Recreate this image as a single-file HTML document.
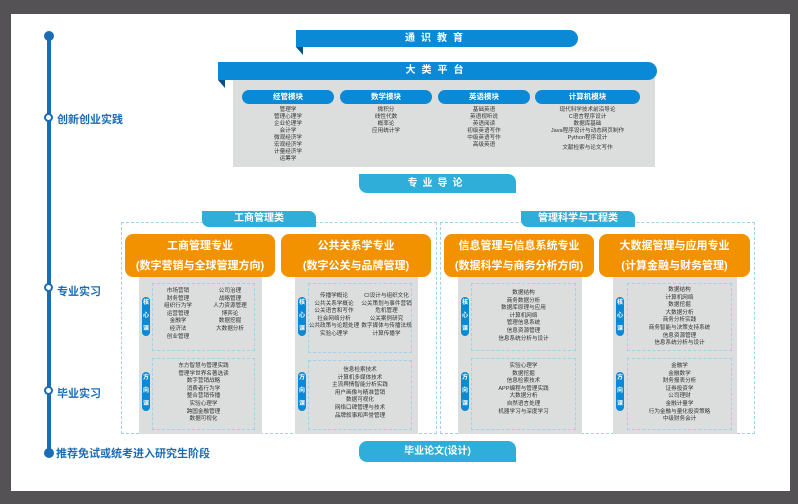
<!DOCTYPE html>
<html><head><meta charset="utf-8"><style>
*{margin:0;padding:0;box-sizing:border-box}
body{width:798px;height:504px;background:#545254;position:relative;overflow:hidden;font-family:"Liberation Sans","Noto Sans CJK SC",sans-serif}
.a{position:absolute}
.page{left:11px;top:14px;width:779px;height:477px;background:#fff}
.tl{color:#1a6cb5;font-weight:bold;font-size:11px;white-space:nowrap}
.ring{width:9px;height:9px;border-radius:50%;border:2px solid #1a6cb5;background:#fff}
.ban{background:#0a8ad6;color:#fff;font-weight:bold;text-align:center;border-radius:0 9px 9px 0;letter-spacing:6px}
.fold{width:0;height:0;border-top:8px solid #0a4f86;border-left:7px solid transparent}
.pill{background:#0a8ad6;color:#fff;font-size:7.5px;font-weight:bold;text-align:center;border-radius:8px;height:14px;line-height:14px}
.lst{font-size:5.6px;line-height:7px;color:#333;text-align:center}
.lb{background:#2eaed9;color:#fff;font-weight:bold;text-align:center}
.dash{border:1px dashed #9fd3ec}
.or{background:#f39200;color:#fff;font-weight:bold;text-align:center;border-radius:8px;font-size:11px;line-height:20px;padding-top:2px}
.gp{background:#dcdddd}
.vp{background:#0a8ad6;color:#fff;font-size:6px;font-weight:bold;width:8px;border-radius:4px;text-align:center;line-height:13px}
.cl{font-size:5.6px;line-height:7.6px;color:#333;text-align:center;white-space:nowrap}
</style></head><body>
<div class="a page"></div>
<!-- timeline -->
<div class="a" style="left:47px;top:36px;width:4px;height:418px;background:#1a6cb5"></div>
<div class="a" style="left:44px;top:31px;width:10px;height:10px;border-radius:50%;background:#1a6cb5"></div>
<div class="a" style="left:44px;top:448px;width:10px;height:10px;border-radius:50%;background:#1a6cb5"></div>
<div class="a ring" style="left:44px;top:113px"></div>
<div class="a ring" style="left:44px;top:283px"></div>
<div class="a ring" style="left:44px;top:386px"></div>
<div class="a tl" style="left:57px;top:111px">创新创业实践</div>
<div class="a tl" style="left:57px;top:283px">专业实习</div>
<div class="a tl" style="left:57px;top:385px">毕业实习</div>
<div class="a tl" style="left:56px;top:445px">推荐免试或统考进入研究生阶段</div>
<!-- top banners -->
<div class="a ban" style="left:296px;top:30px;width:282px;height:17px;font-size:10px;line-height:17px">通识教育</div>
<div class="a fold" style="left:296px;top:47px"></div>
<div class="a gp" style="left:233px;top:78px;width:422px;height:89px"></div>
<div class="a ban" style="left:218px;top:62px;width:439px;height:18px;font-size:10px;line-height:18px">大类平台</div>
<div class="a fold" style="left:218px;top:80px"></div>
<div class="a pill" style="left:242px;top:90px;width:92px">经管模块</div>
<div class="a pill" style="left:340px;top:90px;width:92px">数学模块</div>
<div class="a pill" style="left:438px;top:90px;width:92px">英语模块</div>
<div class="a pill" style="left:535px;top:90px;width:105px">计算机模块</div>
<div class="a lst" style="left:242px;top:107px;width:92px">管理学<br>管理心理学<br>企业伦理学<br>会计学<br>微观经济学<br>宏观经济学<br>计量经济学<br>运筹学</div>
<div class="a lst" style="left:340px;top:107px;width:92px">微积分<br>线性代数<br>概率论<br>应用统计学</div>
<div class="a lst" style="left:438px;top:107px;width:92px">基础英语<br>英语视听说<br>英语阅读<br>初级英语写作<br>中级英语写作<br>高级英语</div>
<div class="a lst" style="left:530px;top:107px;width:115px">现代科学技术前沿导论<br>C语言程序设计<br>数据库基础<br>Java程序设计与动态网页制作<br>Python程序设计<br><span style="display:block;margin-top:3px">文献检索与论文写作</span></div>
<div class="a lb" style="left:359px;top:174px;width:157px;height:19px;border-radius:0 8px 0 8px;font-size:10px;line-height:19px;letter-spacing:5px">专业导论</div>
<!-- containers -->
<div class="a dash" style="left:121px;top:222px;width:316px;height:212px"></div>
<div class="a dash" style="left:440px;top:222px;width:315px;height:212px"></div>
<div class="a lb" style="left:202px;top:211px;width:114px;height:16px;border-radius:0 7px 0 7px;font-size:10px;line-height:16px">工商管理类</div>
<div class="a lb" style="left:521px;top:211px;width:114px;height:16px;border-radius:0 7px 0 7px;font-size:10px;line-height:16px">管理科学与工程类</div>
<!-- panels -->
<div class="a gp" style="left:139px;top:270px;width:123px;height:164px"></div>
<div class="a gp" style="left:295px;top:270px;width:123px;height:164px"></div>
<div class="a gp" style="left:458px;top:270px;width:124px;height:164px"></div>
<div class="a gp" style="left:613px;top:270px;width:124px;height:164px"></div>
<div class="a or" style="left:125px;top:234px;width:150px;height:43px">工商管理专业<br>(数字营销与全球管理方向)</div>
<div class="a or" style="left:281px;top:234px;width:150px;height:43px">公共关系学专业<br>(数字公关与品牌管理)</div>
<div class="a or" style="left:444px;top:234px;width:150px;height:43px">信息管理与信息系统专业<br>(数据科学与商务分析方向)</div>
<div class="a or" style="left:599px;top:234px;width:151px;height:43px">大数据管理与应用专业<br>(计算金融与财务管理)</div>
<!-- dashed boxes + pills -->
<div class="a dash" style="left:152px;top:283px;width:103px;height:68px"></div>
<div class="a dash" style="left:152px;top:358px;width:103px;height:72px"></div>
<div class="a dash" style="left:308px;top:283px;width:104px;height:70px"></div>
<div class="a dash" style="left:308px;top:360px;width:104px;height:70px"></div>
<div class="a dash" style="left:471px;top:283px;width:105px;height:68px"></div>
<div class="a dash" style="left:471px;top:358px;width:105px;height:72px"></div>
<div class="a dash" style="left:627px;top:283px;width:105px;height:68px"></div>
<div class="a dash" style="left:627px;top:358px;width:105px;height:72px"></div>
<div class="a vp" style="left:142px;top:297px">核<br>心<br>课</div>
<div class="a vp" style="left:142px;top:372px">方<br>向<br>课</div>
<div class="a vp" style="left:298px;top:297px">核<br>心<br>课</div>
<div class="a vp" style="left:298px;top:372px">方<br>向<br>课</div>
<div class="a vp" style="left:461px;top:297px">核<br>心<br>课</div>
<div class="a vp" style="left:461px;top:372px">方<br>向<br>课</div>
<div class="a vp" style="left:616px;top:297px">核<br>心<br>课</div>
<div class="a vp" style="left:616px;top:372px">方<br>向<br>课</div>
<!-- lists -->
<div class="a cl" style="left:153px;top:288px;width:50px">市场营销<br>财务管理<br>组织行为学<br>运营管理<br>金融学<br>经济法<br>创业管理</div>
<div class="a cl" style="left:205px;top:288px;width:50px">公司治理<br>战略管理<br>人力资源管理<br>博弈论<br>数据挖掘<br>大数据分析</div>
<div class="a cl" style="left:152px;top:363px;width:103px">东方智慧与管理实践<br>管理学世界名著选读<br>数字营销战略<br>消费者行为学<br>整合营销传播<br>实验心理学<br>跨国金融管理<br>数据可视化</div>
<div class="a cl" style="left:308px;top:293px;width:52px">传播学概论<br>公共关系学概论<br>公关语言和写作<br>社会网络分析<br>公共政策与论题处理<br>实验心理学</div>
<div class="a cl" style="left:360px;top:293px;width:53px">CI设计与组织文化<br>公关策划与事件营销<br>危机管理<br>公关案例研究<br>数字媒体与传播法规<br>计算传播学</div>
<div class="a cl" style="left:308px;top:367px;width:104px">信息检索技术<br>计算机多媒体技术<br>主流舆情智能分析实践<br>用户画像与精准营销<br>数据可视化<br>网络口碑管理与技术<br>品牌叙事和声誉管理</div>
<div class="a cl" style="left:471px;top:290px;width:105px">数据结构<br>商务数据分析<br>数据库原理与应用<br>计算机网络<br>管理信息系统<br>信息资源管理<br>信息系统分析与设计</div>
<div class="a cl" style="left:471px;top:363px;width:105px">实验心理学<br>数据挖掘<br>信息检索技术<br>APP编程与管理实践<br>大数据分析<br>自然语言处理<br>机器学习与深度学习</div>
<div class="a cl" style="left:627px;top:287px;width:105px">数据结构<br>计算机网络<br>数据挖掘<br>大数据分析<br>商务分析实践<br>商务智能与决策支持系统<br>信息资源管理<br>信息系统分析与设计</div>
<div class="a cl" style="left:627px;top:363px;width:105px">金融学<br>金融数学<br>财务报表分析<br>证券投资学<br>公司理财<br>金融计量学<br>行为金融与量化投资策略<br>中级财务会计</div>
<div class="a lb" style="left:359px;top:441px;width:157px;height:21px;border-radius:8px 8px 0 8px;font-size:10px;line-height:21px">毕业论文(设计)</div>
</body></html>
